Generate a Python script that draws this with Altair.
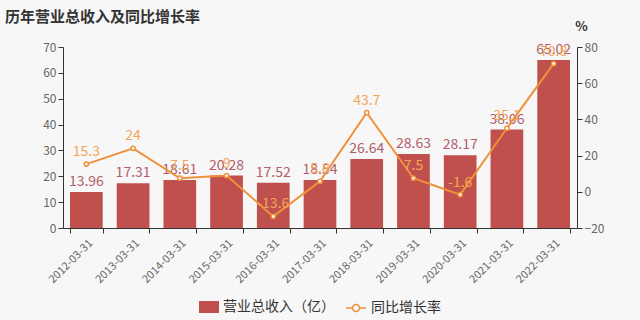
import altair as alt
import pandas as pd

dates = ["2012-03-31", "2013-03-31", "2014-03-31", "2015-03-31", "2016-03-31",
         "2017-03-31", "2018-03-31", "2019-03-31", "2020-03-31", "2021-03-31", "2022-03-31"]
revenue = [13.96, 17.31, 18.61, 20.28, 17.52, 18.54, 26.64, 28.63, 28.17, 38.06, 65.02]
growth = [15.3, 24, 7.5, 9, -13.6, 5.8, 43.7, 7.5, -1.6, 35.1, 70.8]

S1 = "营业总收入（亿）"
S2 = "同比增长率"

df = pd.DataFrame({
    "date": dates,
    "rev": revenue,
    "growth": growth,
    "rev_label": [f"{v:.2f}" for v in revenue],
    "g_label": [f"{v:g}" for v in growth],
    "s1": S1,
    "s2": S2,
})

FONT = "Noto Sans CJK SC"
BAR = "#c0504d"
LINE = "#f0913a"

x = alt.X("date:N", sort=None,
          scale=alt.Scale(paddingInner=0.3, paddingOuter=0.15),
          axis=alt.Axis(title=None, labelAngle=-45, tickBand="extent",
                        labelFontSize=11, labelColor="#666", domainColor="#333",
                        tickColor="#333", tickSize=5, labelPadding=4))

y_left = alt.Y("rev:Q", scale=alt.Scale(domain=[0, 70], nice=False),
               axis=alt.Axis(title=None, values=list(range(0, 71, 10)), grid=False,
                             labelFontSize=12, labelColor="#666", domainColor="#333",
                             tickColor="#333", tickSize=5))

y_right = alt.Y("growth:Q", scale=alt.Scale(domain=[-20, 80], nice=False),
                axis=alt.Axis(title="%", orient="right", values=list(range(-20, 81, 20)),
                              grid=False, labelFontSize=12, labelColor="#666",
                              domainColor="#333", tickColor="#333", tickSize=5,
                              titleAngle=0, titleX=4, titleY=-14, titleAlign="center",
                              titleFontSize=13, titleFontWeight="bold", titleColor="#333"))

base = alt.Chart(df)

bars = base.mark_bar().encode(
    x=x, y=y_left,
    fill=alt.Fill("s1:N", scale=alt.Scale(domain=[S1], range=[BAR]),
                  legend=alt.Legend(title=None, orient="none", legendX=136, legendY=250,
                                    symbolType="M-1,-0.6 H1 V0.6 H-1 Z", symbolSize=400,
                                    labelFontSize=14, labelColor="#333", labelFont=FONT,
                                    symbolStrokeWidth=0)),
)
bar_text = base.mark_text(baseline="bottom", dy=-3, fontSize=14, color="#b0606a",
                          font=FONT).encode(x=x, y=y_left, text="rev_label:N")

line = base.mark_line(strokeWidth=2).encode(
    x=x, y=y_right,
    stroke=alt.Stroke("s2:N", scale=alt.Scale(domain=[S2], range=[LINE]),
                      legend=alt.Legend(title=None, orient="none", legendX=282, legendY=250,
                                        symbolType="M-1,0 H-0.35 M0.35,0 H1 M-0.35,0 A0.35,0.35 0 1,0 0.35,0 A0.35,0.35 0 1,0 -0.35,0",
                                        symbolSize=400, symbolStrokeWidth=1.5,
                                        symbolFillColor="transparent",
                                        labelFontSize=14, labelColor="#333", labelFont=FONT)),
)
pts = base.mark_point(filled=True, fill="white", stroke=LINE, strokeWidth=1.5,
                      size=18, opacity=1).encode(x=x, y=y_right)
line_text = base.mark_text(baseline="bottom", dy=-5, fontSize=14, color="#f2a65a",
                           font=FONT).encode(x=x, y=y_right, text="g_label:N")

left = alt.layer(bars, bar_text)
right = alt.layer(line, pts, line_text)

chart = alt.layer(left, right).resolve_scale(y="independent").properties(
    width=514, height=181,
    autosize=alt.AutoSizeParams(type="none"),
    padding={"left": 63, "top": 47, "right": 63, "bottom": 92},
    background="#f7f7f7",
    title=alt.Title("历年营业总收入及同比增长率", anchor="start", frame="group",
                    dx=-58, dy=9, fontSize=15, fontWeight="bold", color="#333", font=FONT),
).configure(font=FONT, view=alt.ViewConfig(stroke=None))

chart.save("out.html", embed_options={"renderer": "svg", "actions": False})
